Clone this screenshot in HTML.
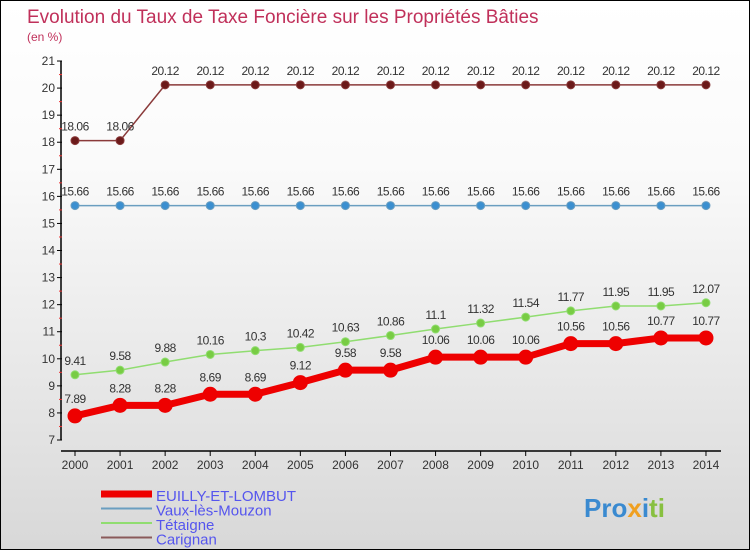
<!DOCTYPE html>
<html><head><meta charset="utf-8"><style>
body{margin:0}
#c{position:relative;width:748px;height:548px;border:1px solid #000;background:linear-gradient(#fff,#fafafa 30%,#e2e2e2 80%,#d8d8d8);font-family:"Liberation Sans",sans-serif;overflow:hidden}
</style></head><body>
<div id="c">
<svg id="s" width="748" height="548">
<text x="26" y="22" font-size="19" fill="#c0305a">Evolution du Taux de Taxe Foncière sur les Propriétés Bâties</text>
<text x="26" y="40" font-size="12" fill="#c0305a">(en %)</text>
<g id="g"></g>
</svg>
</div>
<script>
const years=[2000,2001,2002,2003,2004,2005,2006,2007,2008,2009,2010,2011,2012,2013,2014];
const yTicks=[7,8,9,10,11,12,13,14,15,16,17,18,19,20,21];
const euilly=[7.89,8.28,8.28,8.69,8.69,9.12,9.58,9.58,10.06,10.06,10.06,10.56,10.56,10.77,10.77];
const vaux=[15.66,15.66,15.66,15.66,15.66,15.66,15.66,15.66,15.66,15.66,15.66,15.66,15.66,15.66,15.66];
const tetaigne=[9.41,9.58,9.88,10.16,10.3,10.42,10.63,10.86,11.1,11.32,11.54,11.77,11.95,11.95,12.07];
const carignan=[18.06,18.06,20.12,20.12,20.12,20.12,20.12,20.12,20.12,20.12,20.12,20.12,20.12,20.12,20.12];
const NS="http://www.w3.org/2000/svg",g=document.getElementById('g');
const X=i=>74+i*45.07, Y=v=>439-(v-7)*27.07;
function mk(t,a,p){const e=document.createElementNS(NS,t);for(const k in a)e.setAttribute(k,a[k]);(p||g).appendChild(e);return e;}
let ax=mk('line',{x1:60,y1:Y(21),x2:60,y2:Y(7),stroke:'#000','stroke-width':1.5});


let xa=mk('line',{x1:60,y1:450,x2:720,y2:450,stroke:'#000','stroke-width':1.5});


yTicks.forEach(v=>{mk('line',{x1:56,x2:61,y1:Y(v),y2:Y(v),stroke:'#000'});
 if(v<21)mk('line',{x1:58,x2:61,y1:Y(v+0.5),y2:Y(v+0.5),stroke:'#e33'});
 const t=mk('text',{x:54,y:Y(v)+4,'font-size':12,'text-anchor':'end',fill:'#333'});t.textContent=v;
 
 });
years.forEach((y,i)=>{mk('line',{x1:X(i),x2:X(i),y1:450,y2:455,stroke:'#000'});
 const t=mk('text',{x:X(i),y:468,'font-size':12,'text-anchor':'middle',fill:'#333'});t.textContent=y;
 
 });
function series(d,col,dot,w,r,name,fs){
 const l=mk('polyline',{points:d.map((v,i)=>X(i)+','+Y(v)).join(' '),fill:'none',stroke:col,'stroke-width':w});
 
 
 d.forEach((v,i)=>{const c=mk('circle',{cx:X(i),cy:Y(v),r:r,fill:dot,stroke:col,'stroke-width':1});
  
  
  const t=mk('text',{x:X(i),y:Y(v)-(r+6),'font-size':fs,'text-anchor':'middle',fill:'#333','letter-spacing':'-0.5'});t.textContent=v;
  
  });
}
series(carignan,'#8a3a3a','#6b1a1a',1.5,4,'carignan',12);
series(vaux,'#6a9ec0','#3b8fd0',1.5,4,'vaux',12);
series(tetaigne,'#90dd70','#78cc44',1.5,4,'tetaigne',12);
series(euilly,'#ee0000','#ee0000',7,7,'euilly',12);
const leg=[['EUILLY-ET-LOMBUT','#ee0000',7],['Vaux-lès-Mouzon','#6a9ec0',2],['Tétaigne','#90dd70',2],['Carignan','#8a5a5a',2]];
leg.forEach((e,i)=>{const y=493+i*14.5;
 const l=mk('line',{x1:100,x2:151,y1:y,y2:y,stroke:e[1],'stroke-width':e[2]});
 
 
 const t=mk('text',{x:155,y:y+7,'font-size':15,fill:'#5555ee'});t.textContent=e[0];
 
 });
const lg=mk('text',{x:583,y:516,'font-size':26,'font-weight':'bold',fill:'#3a8ad0'});
lg.innerHTML='Pro<tspan fill="#f0a020">x</tspan><tspan fill="#3a8ad0">i</tspan><tspan fill="#88c040">ti</tspan>';


</script>
</body></html>
